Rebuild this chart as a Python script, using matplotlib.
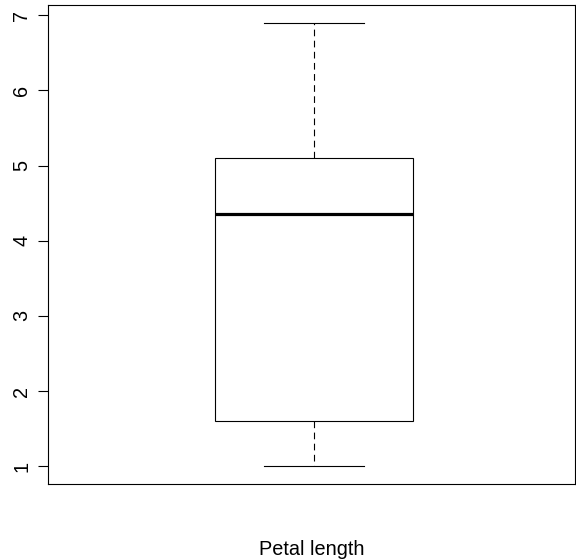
import matplotlib
matplotlib.use("Agg")
import matplotlib.pyplot as plt

plt.rcParams['font.family'] = ['Liberation Sans', 'DejaVu Sans']

# iris petal length summary (five numbers)
label = "Petal length"
whisker_low = 1.0
q1 = 1.6
median = 4.35
q3 = 5.1
whisker_high = 6.9
yticks = [1, 2, 3, 4, 5, 6, 7]

stats = [{
    "label": label,
    "whislo": whisker_low,
    "q1": q1,
    "med": median,
    "q3": q3,
    "whishi": whisker_high,
    "fliers": [],
}]

fig = plt.figure(figsize=(5.76, 5.6), dpi=100)
ax = fig.add_axes([48 / 576, 76 / 560, 527 / 576, 479 / 560])

lw = 0.8
ax.bxp(stats, positions=[1], widths=0.406, patch_artist=True,
       boxprops=dict(facecolor="white", edgecolor="black", linewidth=lw),
       medianprops=dict(color="black", linewidth=2.3, solid_capstyle="butt"),
       whiskerprops=dict(color="black", linewidth=lw, linestyle=(0, (6, 4))),
       capprops=dict(color="black", linewidth=lw),
       capwidths=0.205, showfliers=False)

ax.set_xlim(0.455, 1.535)
ax.set_ylim(0.764, 7.136)
ax.set_yticks(yticks)
ax.set_yticklabels([str(t) for t in yticks], rotation=90, va="center")
ax.tick_params(axis="y", length=7.2, width=lw, pad=5, labelsize=14.3)
ax.set_xticks([])
for s in ax.spines.values():
    s.set_linewidth(lw)

ax.set_xlabel(label, fontsize=14.3, labelpad=40)

fig.savefig("out.png", dpi=100)
